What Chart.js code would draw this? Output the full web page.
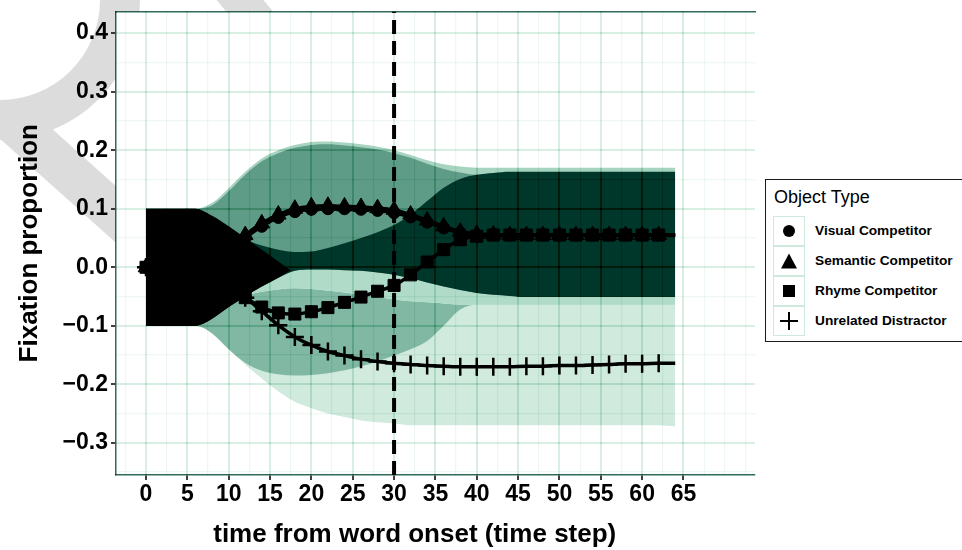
<!DOCTYPE html>
<html>
<head>
<meta charset="utf-8">
<script src="https://cdn.jsdelivr.net/npm/chart.js@4.4.1/dist/chart.umd.min.js"></script>
<style>
  html, body { margin: 0; padding: 0; background: #fff; }
  #wrap { position: relative; width: 962px; height: 550px; overflow: hidden; }
  #fixChart { display: block; }
  #legend {
    position: absolute; left: 765px; top: 179px; width: 220px; height: 163px;
    border: 1px solid #1a1a1a; box-sizing: border-box; background: #fff; color: #000;
    font-family: "Liberation Sans", Arial, sans-serif;
  }
  .ltitle { position: absolute; left: 8px; top: 7px; font-size: 18px; line-height: 20px; }
  .lrow { position: absolute; left: 7px; width: 200px; height: 30px; }
  .lkey { position: absolute; left: 0; top: 0; width: 32px; height: 30px; border: 1.5px solid #cfe9dc; box-sizing: border-box; }
  .ltext { position: absolute; left: 42px; top: 0; line-height: 30px; font-size: 13.7px; font-weight: bold; white-space: nowrap; }
  .mk { position: absolute; left: 50%; top: 50%; transform: translate(-50%, -50%); }
  .mk-circle { width: 12px; height: 12px; border-radius: 50%; background: #000; }
  .mk-triangle { width: 0; height: 0; border-left: 8.5px solid transparent; border-right: 8.5px solid transparent; border-bottom: 15px solid #000; }
  .mk-rect { width: 12px; height: 12px; background: #000; }
  .mk-cross { width: 18px; height: 18px; }
  .mk-cross::before, .mk-cross::after { content: ""; position: absolute; background: #000; }
  .mk-cross::before { left: 0; top: 8px; width: 18px; height: 2px; }
  .mk-cross::after { left: 8px; top: 0; width: 2px; height: 18px; }
</style>
</head>
<body>
<div id="wrap">
  <canvas id="fixChart" width="962" height="550"></canvas>
  <div id="legend"></div>
</div>
<script>
// time steps (every second step carries a marker)
const timeSteps = [0, 2, 4, 6, 8, 10, 12, 14, 16, 18, 20, 22, 24, 26, 28, 30, 32,
  34, 36, 38, 40, 42, 44, 46, 48, 50, 52, 54, 56, 58, 60, 62, 64];

const series = ['Visual Competitor', 'Semantic Competitor', 'Rhyme Competitor', 'Unrelated Distractor'];
const markers = ['circle', 'triangle', 'rect', 'cross'];

// mean fixation proportion per object type
const visual = [0, 0, 0.002, 0.006, 0.013, 0.026, 0.05, 0.07, 0.085, 0.095, 0.099, 0.1, 0.1, 0.099,
  0.097, 0.093, 0.086, 0.077, 0.067, 0.059, 0.055, 0.055, 0.055, 0.055, 0.055, 0.055, 0.055,
  0.055, 0.055, 0.055, 0.055, 0.055, 0.055];
const semantic = [0, 0.001, 0.003, 0.008, 0.016, 0.03, 0.055, 0.075, 0.09, 0.1, 0.104, 0.105, 0.104,
  0.103, 0.101, 0.098, 0.09, 0.08, 0.07, 0.061, 0.057, 0.056, 0.055, 0.055, 0.055, 0.055, 0.055,
  0.055, 0.055, 0.055, 0.055, 0.055, 0.055];
const rhyme = [0, -0.001, -0.003, -0.008, -0.018, -0.033, -0.052, -0.068, -0.078, -0.08, -0.076,
  -0.069, -0.06, -0.051, -0.041, -0.031, -0.013, 0.009, 0.03, 0.047, 0.053, 0.055, 0.055, 0.055,
  0.055, 0.055, 0.055, 0.055, 0.055, 0.055, 0.055, 0.055, 0.055];
const unrelated = [0, -0.001, -0.003, -0.008, -0.018, -0.033, -0.052, -0.075, -0.099, -0.119, -0.133,
  -0.144, -0.151, -0.157, -0.161, -0.164, -0.166, -0.168, -0.169, -0.17, -0.17, -0.17, -0.17,
  -0.169, -0.169, -0.168, -0.168, -0.167, -0.166, -0.165, -0.165, -0.164, -0.164];

// confidence band edges
const semanticHigh = [0.1, 0.1, 0.1, 0.1, 0.11, 0.135, 0.163, 0.186, 0.2, 0.209, 0.214, 0.215, 0.213,
  0.21, 0.206, 0.2, 0.192, 0.183, 0.176, 0.172, 0.17, 0.17, 0.17, 0.17, 0.17, 0.17, 0.17, 0.17,
  0.17, 0.17, 0.17, 0.17, 0.17];
const visualHigh = [0.1, 0.1, 0.1, 0.1, 0.106, 0.13, 0.158, 0.181, 0.195, 0.204, 0.209, 0.21, 0.208,
  0.205, 0.201, 0.195, 0.187, 0.177, 0.168, 0.162, 0.158, 0.158, 0.158, 0.158, 0.158, 0.158,
  0.158, 0.158, 0.158, 0.158, 0.158, 0.158, 0.158];
const semanticLow = [-0.1, -0.1, -0.1, -0.1, -0.088, -0.068, -0.05, -0.033, -0.018, -0.006, -0.004,
  -0.004, -0.005, -0.006, -0.009, -0.013, -0.019, -0.026, -0.033, -0.039, -0.044, -0.047, -0.049,
  -0.051, -0.051, -0.051, -0.051, -0.051, -0.051, -0.051, -0.051, -0.051, -0.051];
const rhymeHigh = [0.1, 0.1, 0.1, 0.1, 0.085, 0.066, 0.048, 0.037, 0.03, 0.026, 0.027, 0.033, 0.041,
  0.05, 0.06, 0.072, 0.09, 0.113, 0.136, 0.151, 0.158, 0.161, 0.163, 0.163, 0.163, 0.163, 0.163,
  0.163, 0.163, 0.163, 0.163, 0.163, 0.163];
const rhymeMid = [-0.1, -0.1, -0.1, -0.1, -0.088, -0.068, -0.05, -0.042, -0.038, -0.036, -0.037,
  -0.04, -0.043, -0.047, -0.051, -0.055, -0.058, -0.06, -0.062, -0.064, -0.064, -0.064, -0.064,
  -0.064, -0.064, -0.064, -0.064, -0.064, -0.064, -0.064, -0.064, -0.064, -0.064];
const rhymeLow = [-0.1, -0.1, -0.1, -0.1, -0.113, -0.14, -0.163, -0.177, -0.183, -0.185, -0.184,
  -0.181, -0.176, -0.169, -0.161, -0.151, -0.14, -0.126, -0.1, -0.072, -0.064, -0.064, -0.064,
  -0.064, -0.064, -0.064, -0.064, -0.064, -0.064, -0.064, -0.064, -0.064, -0.064];
const unrelatedHigh = [-0.1, -0.1, -0.1, -0.1, -0.088, -0.068, -0.05, -0.042, -0.038, -0.036, -0.037,
  -0.04, -0.043, -0.047, -0.051, -0.055, -0.058, -0.06, -0.062, -0.062, -0.062, -0.062, -0.062,
  -0.062, -0.062, -0.062, -0.062, -0.062, -0.062, -0.062, -0.062, -0.062, -0.062];
const unrelatedLow = [-0.1, -0.1, -0.1, -0.1, -0.113, -0.14, -0.166, -0.19, -0.212, -0.23, -0.241,
  -0.25, -0.256, -0.262, -0.265, -0.267, -0.27, -0.27, -0.27, -0.27, -0.27, -0.27, -0.27, -0.27,
  -0.27, -0.27, -0.27, -0.27, -0.27, -0.27, -0.27, -0.27, -0.272];

// where all bands overlap before the competitors split apart
const overlapTime = [0, 2, 4, 6, 8, 10, 12, 14, 16, 17.5];
const overlapTop = [0.1, 0.1, 0.1, 0.1, 0.088, 0.07, 0.05, 0.03, 0.01, -0.005];
const overlapBottom = [-0.1, -0.1, -0.1, -0.1, -0.088, -0.068, -0.05, -0.033, -0.018, -0.005];

const xTickLabels = [0, 5, 10, 15, 20, 25, 30, 35, 40, 45, 50, 55, 60, 65];
const yTickLabels = [-0.3, -0.2, -0.1, 0.0, 0.1, 0.2, 0.3, 0.4];
const wordOffset = 30;

const xMin = -3.63, xMax = 73.65;
const yMin = -0.355, yMax = 0.437;

const FONT = '"Liberation Sans", Arial, Helvetica, sans-serif';

function pts(xs, ys) {
  return xs.map((x, i) => ({ x: x, y: ys[i] }));
}

const datasets = [];

// a filled band: an invisible lower edge followed by an upper edge filled down to it
function band(xs, low, high, color, order) {
  const edge = { showLine: true, borderWidth: 0, borderColor: 'rgba(0,0,0,0)', pointRadius: 0,
    cubicInterpolationMode: 'monotone', order: order };
  datasets.push(Object.assign({ data: pts(xs, low), fill: false }, edge));
  datasets.push(Object.assign({ data: pts(xs, high), fill: '-1', backgroundColor: color }, edge));
}

const rhymeOnlyTop = semanticLow.map((v, i) => Math.max(v, rhymeMid[i]));

band(timeSteps, unrelatedLow, unrelatedHigh, '#d0eadd', 70);
band(timeSteps, rhymeLow, rhymeMid, '#80b8a4', 60);
band(timeSteps, rhymeMid, rhymeOnlyTop, '#b0dbc9', 50);
band(timeSteps, semanticLow, semanticHigh, '#a7d4c0', 40);
band(timeSteps, semanticLow, visualHigh, '#5f9c87', 30);
band(timeSteps, semanticLow, rhymeHigh, '#00372b', 20);
band(overlapTime, overlapBottom, overlapTop, '#000000', 10);

const values = [visual, semantic, rhyme, unrelated];
const sizes = [6, 9, 8.5, 9];
const lineOrder = [5, 3, 4, 2];
values.forEach((vals, k) => {
  datasets.push({
    label: series[k],
    data: pts(timeSteps, vals),
    borderColor: '#000',
    borderWidth: 3.5,
    cubicInterpolationMode: 'monotone',
    pointStyle: markers[k],
    pointRadius: ctx => ctx.dataIndex === vals.length - 1 ? 0 : sizes[k],
    pointBackgroundColor: '#000',
    pointBorderColor: '#000',
    pointBorderWidth: markers[k] === 'cross' ? 2.5 : 1,
    fill: false,
    order: lineOrder[k]
  });
});

// word offset marker
datasets.push({
  data: [{ x: wordOffset, y: yMin }, { x: wordOffset, y: yMax }],
  borderColor: '#000', borderWidth: 4, borderDash: [14, 7],
  pointRadius: 0, fill: false, order: 0
});

const xGrid = [];
for (let k = -1; k <= 29; k++) xGrid.push(k * 2.5);
const yGrid = [];
for (let k = -7; k <= 8; k++) yGrid.push(k / 20);

const isMajorX = v => xTickLabels.some(t => Math.abs(t - v) < 1e-6);
const isMajorY = v => yTickLabels.some(t => Math.abs(t - v) < 1e-6);

// keep the plot panel exactly where the axes are fitted
function noPad(axis) {
  axis.paddingTop = 0; axis.paddingBottom = 0;
  axis.paddingLeft = 0; axis.paddingRight = 0;
}

const align = (p, w) => Math.round(p - w / 2) + w / 2;

const panel = {
  id: 'panel',
  // faint grey mark in the margin, then a white panel over it
  beforeDraw(chart) {
    const ctx = chart.ctx;
    const a = chart.chartArea;
    ctx.save();
    ctx.strokeStyle = '#dcdcdc';
    ctx.lineCap = 'butt';
    ctx.lineWidth = 40;
    ctx.beginPath();
    ctx.arc(0, 0, 120, 0, Math.PI / 2);
    ctx.stroke();
    ctx.lineWidth = 42;
    ctx.beginPath();
    ctx.moveTo(5, 115);
    ctx.lineTo(150, 245);
    ctx.stroke();
    ctx.lineWidth = 36;
    ctx.beginPath();
    ctx.moveTo(215, -30);
    ctx.lineTo(265, 30);
    ctx.stroke();
    ctx.fillStyle = '#fff';
    ctx.fillRect(a.left, a.top, a.right - a.left, a.bottom - a.top);
    ctx.restore();
  },
  // grid goes over the bands, multiplied so it darkens whatever it crosses
  afterDatasetsDraw(chart) {
    chart.ctx.save();
    chart.ctx.globalCompositeOperation = 'multiply';
  },
  afterDraw(chart) {
    const ctx = chart.ctx;
    ctx.restore();
    const a = chart.chartArea;
    const sx = chart.scales.x, sy = chart.scales.y;

    // second grid pass burns the lines deeper into the dark bands
    ctx.save();
    ctx.beginPath();
    ctx.rect(a.left, a.top, a.right - a.left, a.bottom - a.top);
    ctx.clip();
    ctx.globalCompositeOperation = 'color-burn';
    xGrid.forEach(v => {
      const w = isMajorX(v) ? 2 : 1.2;
      const px = align(sx.getPixelForValue(v), w);
      ctx.strokeStyle = isMajorX(v) ? '#e3e3e3' : '#f2f2f2';
      ctx.lineWidth = w;
      ctx.beginPath(); ctx.moveTo(px, a.top); ctx.lineTo(px, a.bottom); ctx.stroke();
    });
    yGrid.forEach(v => {
      const w = isMajorY(v) ? 2 : 1.2;
      const py = align(sy.getPixelForValue(v), w);
      ctx.strokeStyle = isMajorY(v) ? '#e3e3e3' : '#f2f2f2';
      ctx.lineWidth = w;
      ctx.beginPath(); ctx.moveTo(a.left, py); ctx.lineTo(a.right, py); ctx.stroke();
    });
    ctx.restore();

    // x-axis title centred under the labelled range
    const mid = (sx.getPixelForValue(xTickLabels[0]) + sx.getPixelForValue(xTickLabels[xTickLabels.length - 1])) / 2;
    ctx.save();
    ctx.font = 'bold 26px ' + FONT;
    ctx.fillStyle = '#000';
    ctx.textAlign = 'center';
    ctx.textBaseline = 'middle';
    ctx.fillText('time from word onset (time step)', mid, sx.bottom - 15);
    ctx.restore();
  }
};

const teal = '#2f6a5c';

new Chart(document.getElementById('fixChart'), {
  type: 'line',
  data: { datasets: datasets },
  plugins: [panel],
  options: {
    responsive: false,
    animation: false,
    devicePixelRatio: 1,
    events: [],
    layout: { padding: { top: 11, right: 207, bottom: 0, left: 0 } },
    plugins: { legend: { display: false }, tooltip: { enabled: false } },
    scales: {
      x: {
        type: 'linear', min: xMin, max: xMax,
        afterBuildTicks: axis => { axis.ticks = xGrid.map(v => ({ value: v })); },
        afterFit: axis => { axis.height = 75; noPad(axis); },
        ticks: {
          autoSkip: false, maxRotation: 0, padding: 1, color: '#000',
          font: { family: FONT, size: 23, weight: 'bold' },
          callback: v => (isMajorX(v) ? String(v) : '')
        },
        grid: {
          z: 1,
          color: c => (isMajorX(c.tick.value) ? '#def1e7' : '#f0f8f4'),
          lineWidth: c => (isMajorX(c.tick.value) ? 2 : 1.2),
          tickColor: c => (isMajorX(c.tick.value) ? '#000' : 'rgba(0,0,0,0)'),
          tickLength: 5, tickWidth: 1.5
        },
        border: { color: teal, width: 1.5, z: 2 }
      },
      xTop: {
        type: 'linear', position: 'top', min: xMin, max: xMax,
        afterFit: axis => { axis.height = 0; noPad(axis); },
        ticks: { display: false },
        grid: { z: 1, drawOnChartArea: false, drawTicks: false },
        border: { color: teal, width: 1.5, z: 2 }
      },
      y: {
        type: 'linear', min: yMin, max: yMax,
        afterBuildTicks: axis => { axis.ticks = yGrid.map(v => ({ value: v })); },
        afterFit: axis => { axis.width = 116; noPad(axis); },
        ticks: {
          autoSkip: false, padding: 3, color: '#000',
          font: { family: FONT, size: 23, weight: 'bold' },
          callback: v => (isMajorY(v) ? v.toFixed(1).replace('-', '\u2212') : '')
        },
        grid: {
          z: 1,
          color: c => (isMajorY(c.tick.value) ? '#def1e7' : '#f0f8f4'),
          lineWidth: c => (isMajorY(c.tick.value) ? 2 : 1.2),
          tickColor: c => (isMajorY(c.tick.value) ? '#000' : 'rgba(0,0,0,0)'),
          tickLength: 5, tickWidth: 1.5
        },
        border: { color: teal, width: 1.5, z: 2 },
        title: {
          display: true, text: 'Fixation proportion', color: '#000',
          font: { family: FONT, size: 26, weight: 'bold' },
          padding: { top: 14, bottom: 0 }
        }
      }
    }
  }
});

// legend box
const legendBox = document.getElementById('legend');
let html = '<div class="ltitle">Object Type</div>';
series.forEach((name, i) => {
  html += '<div class="lrow" style="top:' + (36 + i * 30) + 'px">' +
    '<span class="lkey"><span class="mk mk-' + markers[i] + '"></span></span>' +
    '<span class="ltext">' + name + '</span></div>';
});
legendBox.innerHTML = html;
</script>
</body>
</html>
